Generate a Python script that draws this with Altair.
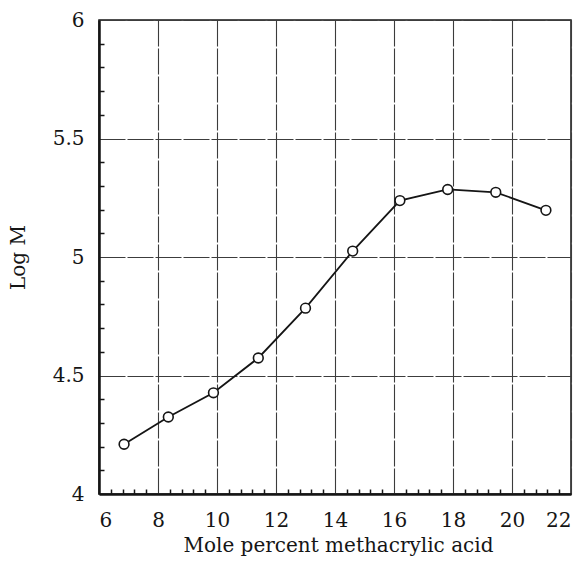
import altair as alt
import pandas as pd

# Data
mole_pct = [6.85, 8.35, 9.88, 11.4, 13.0, 14.6, 16.2, 17.82, 19.45, 21.15]
log_m = [4.21, 4.325, 4.427, 4.574, 4.784, 5.025, 5.238, 5.285, 5.273, 5.197]

x_major = [6, 8, 10, 12, 14, 16, 18, 20, 22]
y_major = [4, 4.5, 5, 5.5, 6]
x_minor = [6.4, 6.8, 7.2, 7.6, 8.4, 8.8, 9.2, 9.6, 10.4, 10.8, 11.2, 11.6,
           12.4, 12.8, 13.2, 13.6, 14.4, 14.8, 15.2, 15.6, 16.4, 16.8, 17.2, 17.6,
           18.4, 18.8, 19.2, 19.6, 20.4, 20.8, 21.2, 21.6]
y_minor = [4.1, 4.2, 4.3, 4.4, 4.6, 4.7, 4.8, 4.9, 5.1, 5.2, 5.3, 5.4,
           5.6, 5.7, 5.8, 5.9]

x_title = "Mole percent methacrylic acid"
y_title = "Log M"

df = pd.DataFrame({"x": mole_pct, "y": log_m})

W, H = 472, 474
FONT = "DejaVu Serif"
INK = "#151515"
GRID = "#3c3c3c"

xs = alt.Scale(domain=[6, 22], nice=False, zero=False)
ys = alt.Scale(domain=[4, 6], nice=False, zero=False)

base = alt.Chart(df)

x_axis = alt.Axis(
    values=x_major, format="~g", ticks=False, labelPadding=16,
    labelFont=FONT, labelFontSize=20, labelColor=INK,
    domain=True, domainColor=INK, domainWidth=2.5,
    grid=True, gridColor=GRID, gridDash=[26, 2], gridWidth=1.1,
    title=x_title, titleFont=FONT, titleFontSize=20, titleFontWeight="normal",
    titleColor=INK, titleY=41, titleX=W / 2 + 3, titleBaseline="top",
)
y_axis = alt.Axis(
    values=y_major, format="~g", ticks=False, labelPadding=15,
    labelFont=FONT, labelFontSize=20, labelColor=INK,
    domain=True, domainColor=INK, domainWidth=2.5,
    grid=True, gridColor=GRID, gridDash=[26, 2], gridWidth=1.1,
    title=y_title, titleFont=FONT, titleFontSize=20, titleFontWeight="normal",
    titleColor=INK, titleX=-71, titleY=H / 2, titleAngle=270,
    titleBaseline="bottom", titleAlign="center",
)

line = base.mark_line(color=INK, strokeWidth=1.8).encode(
    x=alt.X("x:Q", scale=xs, axis=x_axis),
    y=alt.Y("y:Q", scale=ys, axis=y_axis),
)

points = base.mark_point(
    shape="circle", filled=True, fill="white", stroke=INK,
    strokeWidth=1.6, size=95, opacity=1,
).encode(
    x=alt.X("x:Q", scale=xs, axis=None),
    y=alt.Y("y:Q", scale=ys, axis=None),
)

minor = base.mark_point(opacity=0).encode(
    x=alt.X("x:Q", scale=xs, axis=alt.Axis(
        orient="top", offset=-H, values=x_minor, labels=False, domain=False,
        grid=False, ticks=True, tickSize=5, tickWidth=1.5, tickColor=INK,
        title=None)),
    y=alt.Y("y:Q", scale=ys, axis=alt.Axis(
        orient="right", offset=-W, values=y_minor, labels=False, domain=False,
        grid=False, ticks=True, tickSize=5, tickWidth=1.5, tickColor=INK,
        title=None)),
)

chart = alt.layer(line, points, minor).resolve_axis(
    x="independent", y="independent"
).properties(
    width=W, height=H,
    padding={"left": 99, "top": 20, "right": 8, "bottom": 81},
    autosize="none",
    background="white",
).configure_view(stroke=INK, strokeWidth=1.5)

chart.save("out.html", embed_options={"renderer": "svg", "actions": False})
